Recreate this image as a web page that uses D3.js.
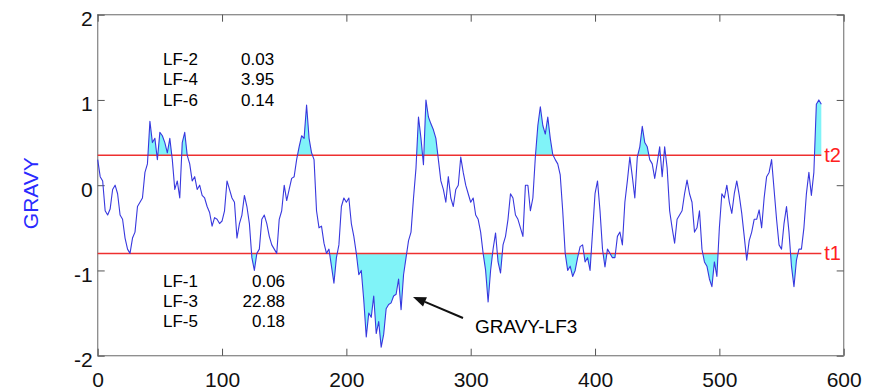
<!DOCTYPE html>
<html>
<head>
<meta charset="utf-8">
<script src="https://cdn.jsdelivr.net/npm/d3@7"></script>
<style>
    body { margin: 0; background: #fff; }
    text { font-family: Arial, 'Liberation Sans', Helvetica, sans-serif; }
</style>
</head>
<body>
<svg id="chart"></svg>
<script>
// GRAVY profile, one reading every 2 residues (0..582)
const STEP = 2;
const gravy = [
    0.30, 0.10, 0.05, -0.30, -0.35, -0.28, -0.05, 0.00, -0.10, -0.35,
    -0.40, -0.62, -0.75, -0.80, -0.62, -0.55, -0.25, -0.20, -0.15, 0.15,
    0.25, 0.75, 0.50, 0.55, 0.30, 0.62, 0.58, 0.50, 0.38, 0.55,
    0.30, -0.05, 0.05, -0.15, 0.50, 0.62, 0.35, 0.25, 0.05, 0.10,
    -0.05, 0.00, -0.12, -0.15, -0.25, -0.32, -0.48, -0.38, -0.40, -0.45,
    -0.42,
    -0.30, 0.05, -0.05, -0.15, -0.20, -0.62, -0.45, -0.35, -0.12, -0.25,
    -0.45, -0.85, -1.00, -0.80, -0.75, -0.40, -0.35, -0.45, -0.60, -0.70,
    -0.75, -0.80, -0.40, -0.30, 0.00, -0.18, -0.05, 0.08, 0.10, 0.30,
    0.45, 0.58, 0.55, 0.94, 0.55, 0.38, 0.30, -0.30, -0.50, -0.48,
    -0.68, -0.80, -0.75, -0.95, -1.15, -0.85, -0.70, -0.25, -0.15, -0.20,
    -0.15, -0.45, -0.60, -0.80, -1.05, -1.00, -1.35, -1.78, -1.50, -1.55,
    -1.30, -1.74, -1.60, -1.90, -1.75, -1.45, -1.40, -1.38, -1.30, -1.28,
    -1.10, -1.46, -1.05, -0.85, -0.65, -0.55, -0.15, 0.20, 0.80, 0.55,
    0.24, 1.00, 0.80, 0.72, 0.65, 0.55, 0.30, 0.05, -0.05, -0.20,
    0.10, -0.15, -0.25, -0.05, 0.00, 0.33, 0.15, 0.00, -0.10, -0.20,
    -0.15, -0.35, -0.40, -0.55, -0.80, -1.00, -1.37, -1.00, -0.75, -0.56,
    -0.90, -1.03, -0.70, -0.60, -0.40, -0.10, -0.15, -0.35, -0.40, -0.50,
    -0.60, 0.00, 0.00, -0.30, -0.15, 0.33, 0.70, 0.92, 0.70, 0.60,
    0.80, 0.55, 0.36, 0.30, 0.25, 0.12, -0.30, -0.80, -1.00, -0.95,
    -1.07, -1.00, -0.85, -0.72, -0.70, -0.90, -0.85, -1.00, -0.55, -0.10,
    0.05, -0.30, -0.75, -0.96, -0.75, -0.80, -0.85, -0.85, -0.60, -0.55,
    -0.70, -0.20, 0.05, 0.33, 0.10, -0.15, 0.33, 0.45, 0.69, 0.50,
    0.45, 0.30, 0.25, 0.08, 0.26, 0.45, 0.10, 0.45, 0.20, -0.30,
    -0.50, -0.68, -0.40, -0.35, -0.30, -0.10, 0.06, -0.10, -0.20, -0.55,
    -0.50, -0.30, -0.75, -0.90, -0.95, -1.10, -1.19, -0.90, -1.07, -0.50,
    -0.10, -0.15, 0.00, -0.20, -0.33, -0.10, 0.05, -0.12, -0.33, -0.60,
    -0.88, -0.65, -0.55, -0.40, -0.40, -0.29, -0.50, -0.15, 0.10, 0.15,
    0.30, -0.05, -0.40, -0.70, -0.75, -0.45, -0.25, -0.55, -0.95, -1.19,
    -0.88, -0.75, -0.75, -0.50, -0.10, 0.15, -0.12, 0.15, 0.95, 1.00,
    0.95
];

const thresholds = [
    { name: 't2', value: 0.35 },
    { name: 't1', value: -0.8 }
];

const xTicks = [0, 100, 200, 300, 400, 500, 600];
const yTicks = [-2, -1, 0, 1, 2];

const upperLabels = ['LF-2', 'LF-4', 'LF-6'];
const upperValues = ['0.03', '3.95', '0.14'];
const lowerLabels = ['LF-1', 'LF-3', 'LF-5'];
const lowerValues = ['0.06', '22.88', '0.18'];

const width = 878;
const height = 391;
const marginLeft = 97.7;
const marginRight = 34.3;
const marginTop = 14.7;
const marginBottom = 35.3;

const points = gravy.map((v, i) => ({ pos: i * STEP, v }));
const lastPos = points[points.length - 1].pos;

const x = d3.scaleLinear()
    .domain([0, 600])
    .range([marginLeft, width - marginRight]);

const y = d3.scaleLinear()
    .domain([-2, 2])
    .range([height - marginBottom, marginTop]);

const svg = d3.select('#chart')
    .attr('width', width)
    .attr('height', height);

const defs = svg.append('defs');
const t2 = thresholds[0].value;
const t1 = thresholds[1].value;

// clip regions: above t2 and below t1
defs.append('clipPath').attr('id', 'clip-high')
    .append('rect')
    .attr('x', x(0)).attr('y', y(2))
    .attr('width', x(600) - x(0)).attr('height', y(t2) - y(2));
defs.append('clipPath').attr('id', 'clip-low')
    .append('rect')
    .attr('x', x(0)).attr('y', y(t1))
    .attr('width', x(600) - x(0)).attr('height', y(-2) - y(t1));

const fill = '#80f3f8';

svg.append('path')
    .datum(points)
    .attr('clip-path', 'url(#clip-high)')
    .attr('fill', fill)
    .attr('d', d3.area().x(d => x(d.pos)).y0(y(t2)).y1(d => y(d.v)));

svg.append('path')
    .datum(points)
    .attr('clip-path', 'url(#clip-low)')
    .attr('fill', fill)
    .attr('d', d3.area().x(d => x(d.pos)).y0(y(t1)).y1(d => y(d.v)));

// frame
svg.append('rect')
    .attr('x', x(0)).attr('y', y(2))
    .attr('width', x(600) - x(0)).attr('height', y(-2) - y(2))
    .attr('fill', 'none')
    .attr('stroke', '#8a8a8a')
    .attr('stroke-width', 1.3);

const tickLen = 7;
const plain = d => String(d);
const styleAxis = g => {
    g.select('.domain').remove();
    g.selectAll('.tick line').attr('stroke', '#555').attr('stroke-width', 1);
    g.selectAll('.tick text')
        .attr('fill', '#111')
        .style('font-size', '21px');
};

svg.append('g')
    .attr('transform', `translate(0,${y(-2)})`)
    .call(d3.axisBottom(x).tickValues(xTicks).tickFormat(plain)
        .tickSize(-tickLen).tickPadding(16))
    .call(styleAxis);

svg.append('g')
    .attr('transform', `translate(0,${y(2)})`)
    .call(d3.axisTop(x).tickValues(xTicks).tickSize(-tickLen).tickFormat(''))
    .call(styleAxis);

svg.append('g')
    .attr('transform', `translate(${x(0)},0)`)
    .call(d3.axisLeft(y).tickValues(yTicks).tickFormat(plain)
        .tickSize(-tickLen).tickPadding(5))
    .call(styleAxis)
    .call(g => g.selectAll('.tick text').attr('dy', '0.52em'));

svg.append('g')
    .attr('transform', `translate(${x(600)},0)`)
    .call(d3.axisRight(y).tickValues(yTicks).tickSize(-tickLen).tickFormat(''))
    .call(styleAxis);

// threshold lines
svg.selectAll('.thr')
    .data(thresholds)
    .join('line')
    .attr('x1', x(0)).attr('x2', x(lastPos))
    .attr('y1', d => y(d.value)).attr('y2', d => y(d.value))
    .attr('stroke', '#ee3030')
    .attr('stroke-width', 1.5);

svg.selectAll('.thr-label')
    .data(thresholds)
    .join('text')
    .attr('x', x(lastPos) + 3)
    .attr('y', d => y(d.value) + 7)
    .attr('fill', '#ff2020')
    .style('font-size', '20px')
    .text(d => d.name);

// profile line
svg.append('path')
    .datum(points)
    .attr('fill', 'none')
    .attr('stroke', '#3838de')
    .attr('stroke-width', 1.1)
    .attr('stroke-linejoin', 'round')
    .attr('d', d3.line().x(d => x(d.pos)).y(d => y(d.v)));

// y label
svg.append('text')
    .attr('transform', `translate(38,${(y(2) + y(-2)) / 2 + 8}) rotate(-90)`)
    .attr('text-anchor', 'middle')
    .attr('fill', '#2a2aff')
    .style('font-size', '21px')
    .text('GRAVY');

// LF tables
const tableFont = '17px';
const upperRows = [1.41, 1.17, 0.93];
const lowerRows = [-1.194, -1.425, -1.667];

upperLabels.forEach((lab, i) => {
    svg.append('text').attr('x', x(52.5)).attr('y', y(upperRows[i]))
        .style('font-size', tableFont).text(lab);
    svg.append('text').attr('x', x(115.3)).attr('y', y(upperRows[i]))
        .style('font-size', tableFont).text(upperValues[i]);
});

lowerLabels.forEach((lab, i) => {
    svg.append('text').attr('x', x(52.5)).attr('y', y(lowerRows[i]))
        .style('font-size', tableFont).text(lab);
    svg.append('text').attr('x', x(150.7)).attr('y', y(lowerRows[i]))
        .attr('text-anchor', 'end')
        .style('font-size', tableFont).text(lowerValues[i]);
});

// annotation arrow
const arrowFrom = [293.8, -1.558];
const arrowTo = [253.6, -1.31];
const ax0 = x(arrowFrom[0]), ay0 = y(arrowFrom[1]);
const ax1 = x(arrowTo[0]), ay1 = y(arrowTo[1]);
const ang = Math.atan2(ay1 - ay0, ax1 - ax0);
const headLen = 13, headW = 5;
const bx = ax1 - headLen * Math.cos(ang), by = ay1 - headLen * Math.sin(ang);

svg.append('line')
    .attr('x1', ax0).attr('y1', ay0).attr('x2', bx).attr('y2', by)
    .attr('stroke', '#111').attr('stroke-width', 2);

svg.append('path')
    .attr('fill', '#111')
    .attr('d', `M${ax1},${ay1}` +
        `L${bx + headW * Math.sin(ang)},${by - headW * Math.cos(ang)}` +
        `L${bx - headW * Math.sin(ang)},${by + headW * Math.cos(ang)}Z`);

svg.append('text')
    .attr('x', x(303.4)).attr('y', y(-1.734))
    .style('font-size', '19px')
    .text('GRAVY-LF3');
</script>
</body>
</html>
